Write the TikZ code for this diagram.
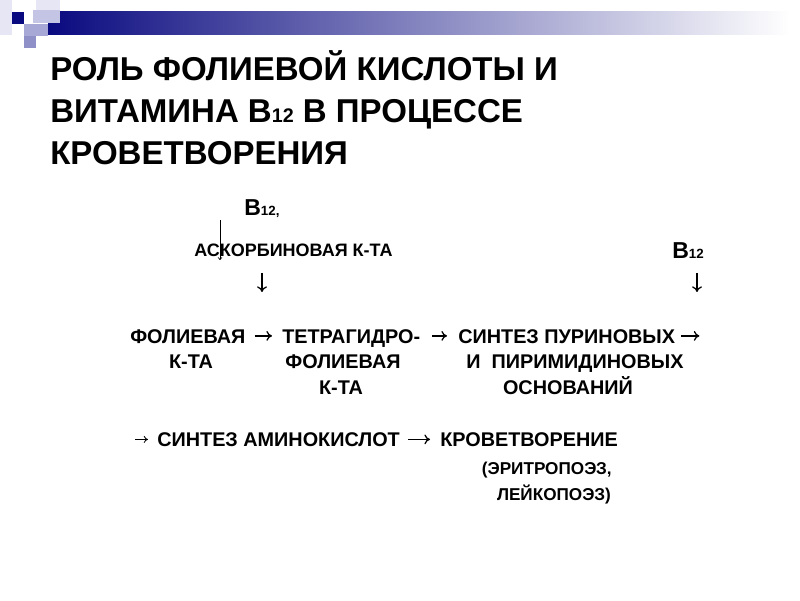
\documentclass[tikz,border=0pt]{standalone}
\usepackage{fontspec}
\setmainfont{Liberation Sans}
\usetikzlibrary{arrows.meta}
\definecolor{r10g10b128}{RGB}{10,10,128}
\definecolor{r230g230b244}{RGB}{230,230,244}
\definecolor{r196g196b228}{RGB}{196,196,228}
\definecolor{r168g168b214}{RGB}{168,168,214}
\definecolor{r144g144b200}{RGB}{144,144,200}
\begin{document}
\begin{tikzpicture}[
  headline/.style={font=\fontsize{23.5}{28}\selectfont\bfseries, anchor=base west, inner sep=0pt},
  word/.style={font=\fontsize{14.1}{17}\selectfont\bfseries, inner sep=0pt, text height=10.1pt, text depth=0pt},
  noteword/.style={font=\fontsize{12.2}{15}\selectfont\bfseries, inner sep=0pt, anchor=base east},
  smallword/.style={font=\fontsize{12.8}{15}\selectfont\bfseries, inner sep=0pt, anchor=base west},
  vitamin/.style={font=\fontsize{16.4}{18}\selectfont\bfseries, inner sep=0pt, anchor=base west},
  arr/.style={-{To[length=4pt,width=7pt]}, line width=0.9pt}
]
\useasboundingbox (0,0) rectangle (20.000000,15.000000);

% Drawing the slide header bar and squares
\shade [left color=r10g10b128, right color=white] (1.200000,14.700000) rectangle (19.750000,14.125000);%
\fill [r230g230b244] (0.000000,15.000000) rectangle (0.300000,14.125000);%
\fill [r10g10b128] (0.300000,14.700000) rectangle (0.600000,14.400000);%
\fill [r230g230b244] (0.900000,15.000000) rectangle (1.500000,14.750000);%
\fill [r196g196b228] (0.825000,14.750000) rectangle (1.500000,14.425000);%
\fill [r168g168b214] (0.600000,14.400000) rectangle (1.200000,14.100000);%
\fill [r144g144b200] (0.600000,14.100000) rectangle (0.900000,13.800000);%

% Marking the title
\node (head1) at (1.250000,12.975000) [headline] {РОЛЬ ФОЛИЕВОЙ КИСЛОТЫ И};%
\node (head2) at (1.250000,11.937500) [headline] {ВИТАМИНА В{\fontsize{14}{16}\selectfont 12} В ПРОЦЕССЕ};%
\node (head3) at (1.250000,10.887500) [headline] {КРОВЕТВОРЕНИЯ};%

% Marking the cofactors
\node (vitleft) at (6.100000,9.600000) [vitamin] {В{\fontsize{9.5}{10}\selectfont 12,}};%
\node (ascorb) at (4.850000,8.575000) [smallword] {АСКОРБИНОВАЯ К-ТА};%
\node (vitright) at (16.800000,8.550000) [vitamin] {В{\fontsize{9.5}{10}\selectfont 12}};%

% Marking row one
\node (fol1) at (3.250000,6.425000) [word, anchor=base west] {ФОЛИЕВАЯ};%
\node (tet1) at (7.050000,6.425000) [word, anchor=base west] {ТЕТРАГИДРО-};%
\node (syn1) at (11.450000,6.425000) [word, anchor=base west] {СИНТЕЗ ПУРИНОВЫХ};%

% Marking rows two and three
\node (fol2) at (4.775000,5.787500) [word, anchor=base] {К-ТА};%
\node (tet2) at (8.575000,5.787500) [word, anchor=base] {ФОЛИЕВАЯ};%
\node (syn2) at (14.375000,5.787500) [word, anchor=base] {И\ \ ПИРИМИДИНОВЫХ};%
\node (tet3) at (8.525000,5.137500) [word, anchor=base] {К-ТА};%
\node (syn3) at (14.200000,5.137500) [word, anchor=base] {ОСНОВАНИЙ};%

% Marking row four
\node (amino) at (3.925000,3.837500) [word, anchor=base west] {СИНТЕЗ АМИНОКИСЛОТ};%
\node (krov1) at (11.000000,3.837500) [word, anchor=base west] {КРОВЕТВОРЕНИЕ};%
\node (krov2) at (15.300000,3.137500) [noteword] {(ЭРИТРОПОЭЗ,};%
\node (krov3) at (15.275000,2.487500) [noteword] {ЛЕЙКОПОЭЗ)};%

% Free ends of the vertical arrows
\coordinate (downlefttop) at (6.550000,8.175000);%
\coordinate (downleftbot) at (6.550000,7.700000);%
\coordinate (downrighttop) at (17.425000,8.175000);%
\coordinate (downrightbot) at (17.425000,7.700000);%
\coordinate (thintop) at (5.500000,9.500000);%
\coordinate (thinbot) at (5.500000,8.500000);%

% Drawing the arrows
\draw [arr, shorten <=0.225cm, shorten >=0.250cm] (fol1.east) -- (tet1.west);%
\draw [arr, shorten <=0.300cm, shorten >=0.275cm] (tet1.east) -- (syn1.west);%
\draw [arr, shorten <=0.150cm] (syn1.east) -- ++(0.600000,0);%
\draw [{To[length=3pt,width=5pt]}-, line width=0.6pt, shorten <=0.225cm] (amino.west) -- ++(-0.550000,0);%
\draw [arr, shorten <=0.200cm, shorten >=0.250cm] (amino.east) -- (krov1.west);%
\draw [arr] (downlefttop) -- (downleftbot);%
\draw [arr] (downrighttop) -- (downrightbot);%
\draw [-{To[length=2pt,width=3pt]}, line width=0.5pt] (thintop) -- (thinbot);%
\end{tikzpicture}
\end{document}
